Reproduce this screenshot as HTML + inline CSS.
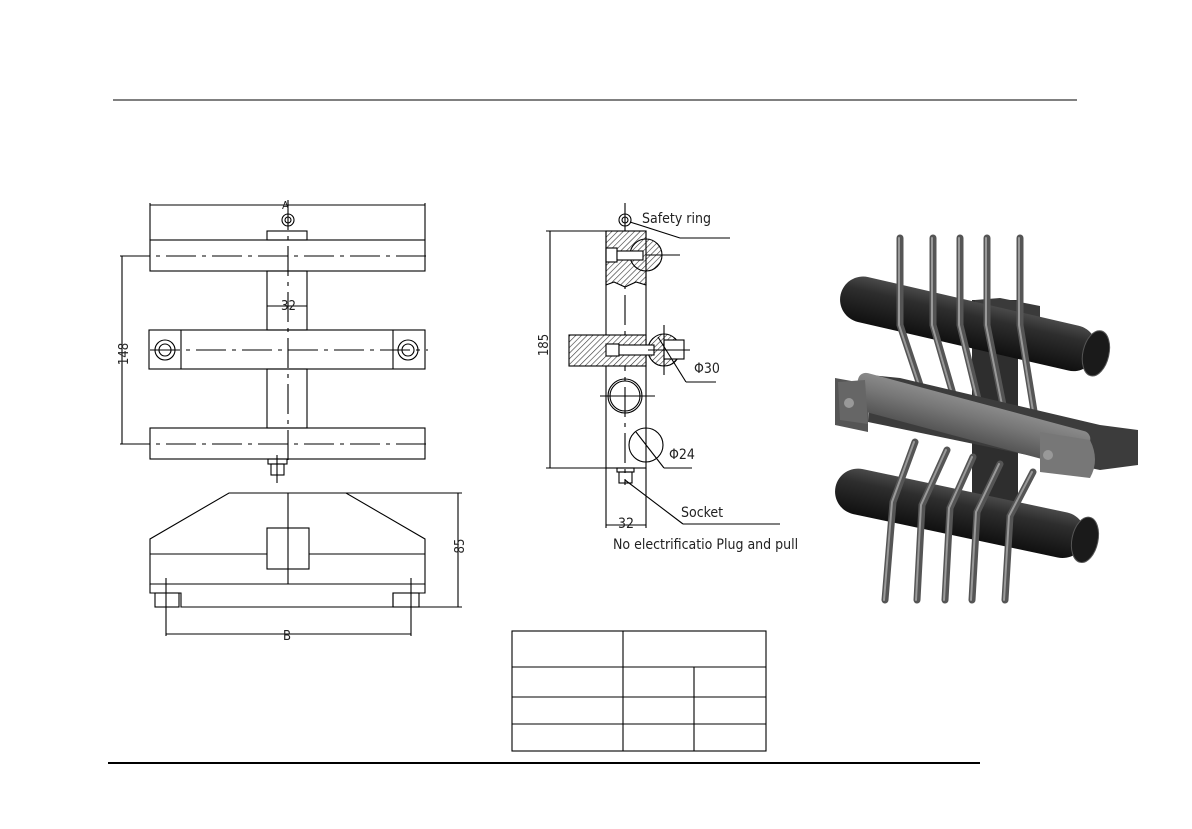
<!DOCTYPE html>
<html><head><style>body{margin:0;background:#fff}svg{display:block}text{font-family:"DejaVu Sans Condensed","Liberation Sans Narrow","Liberation Sans",sans-serif;fill:#222}</style></head>
<body>
<svg width="1192" height="829" viewBox="0 0 1192 829" xmlns="http://www.w3.org/2000/svg">
<defs>
<pattern id="h" width="4" height="4" patternUnits="userSpaceOnUse" patternTransform="rotate(45)"><rect width="4" height="4" fill="#fff"/><line x1="0" y1="0" x2="0" y2="4" stroke="#333" stroke-width="1.2"/></pattern>
<linearGradient id="cyl" x1="0" y1="0" x2="0" y2="1"><stop offset="0" stop-color="#4a4a4a"/><stop offset=".3" stop-color="#2e2e2e"/><stop offset="1" stop-color="#101010"/></linearGradient>
<linearGradient id="gry" x1="0" y1="0" x2="0" y2="1"><stop offset="0" stop-color="#8a8a8a"/><stop offset=".4" stop-color="#777"/><stop offset="1" stop-color="#555"/></linearGradient>
</defs>
<line x1="113" y1="100" x2="1077" y2="100" stroke="#000" stroke-width="1"/>
<line x1="108" y1="763" x2="980" y2="763" stroke="#000" stroke-width="2"/>
<g fill="none" stroke="#000" stroke-width="1.1">
<line x1="150" y1="205" x2="425" y2="205"/><line x1="150" y1="203" x2="150" y2="240"/><line x1="425" y1="203" x2="425" y2="240"/>
<circle cx="288" cy="220" r="6"/><circle cx="288" cy="220" r="3"/>
<rect x="267" y="231" width="40" height="9"/>
<rect x="150" y="240" width="275" height="31"/>
<line x1="120" y1="256" x2="428" y2="256" stroke-dasharray="30 6 4 6"/>
<line x1="122" y1="256" x2="122" y2="444"/>
<rect x="267" y="271" width="40" height="59"/>
<line x1="267" y1="306" x2="307" y2="306"/>
<rect x="149" y="330" width="276" height="39"/><line x1="181" y1="330" x2="181" y2="369"/><line x1="393" y1="330" x2="393" y2="369"/>
<circle cx="165" cy="350" r="10"/><circle cx="165" cy="350" r="6"/><circle cx="408" cy="350" r="10"/><circle cx="408" cy="350" r="6"/>
<line x1="150" y1="350" x2="428" y2="350" stroke-dasharray="30 6 4 6"/>
<rect x="267" y="369" width="40" height="59"/>
<rect x="150" y="428" width="275" height="31"/>
<line x1="120" y1="444" x2="428" y2="444" stroke-dasharray="30 6 4 6"/>
<rect x="268" y="459" width="19" height="5"/><rect x="271" y="464" width="13" height="11"/>
<line x1="288" y1="200" x2="288" y2="462" stroke-dasharray="30 6 4 6"/>
<line x1="277" y1="455" x2="277" y2="483"/>
<path d="M229 493 L346 493 L425 539 L425 584 L150 584 L150 539 Z"/>
<line x1="150" y1="554" x2="425" y2="554"/>
<rect x="267" y="528" width="42" height="41" fill="#fff"/>
<line x1="288" y1="493" x2="288" y2="584"/>
<rect x="155" y="593" width="24" height="14"/><rect x="393" y="593" width="26" height="14"/>
<path d="M150 584 L150 593 L181 593 L181 607 L393 607 L393 593 L425 593 L425 584"/>
<line x1="166" y1="578" x2="166" y2="636"/><line x1="411" y1="578" x2="411" y2="636"/>
<line x1="166" y1="634" x2="411" y2="634"/>
<line x1="346" y1="493" x2="462" y2="493"/><line x1="419" y1="607" x2="462" y2="607"/>
<line x1="458" y1="493" x2="458" y2="607"/>
<line x1="625" y1="203" x2="625" y2="485" stroke-dasharray="30 6 4 6"/>
<circle cx="625" cy="220" r="6"/><circle cx="625" cy="220" r="3"/>
<line x1="630" y1="222" x2="680" y2="238"/><line x1="680" y1="238" x2="730" y2="238"/>
<path d="M606 231 L646 231 L646 285 L636 282 L625 287 L614 282 L606 285 Z" fill="url(#h)"/>
<circle cx="646" cy="255" r="16" fill="url(#h)"/>
<rect x="606" y="248" width="11" height="14" fill="#fff"/><rect x="617" y="251" width="26" height="9" fill="#fff"/>
<line x1="646" y1="255" x2="680" y2="255"/>
<rect x="606" y="231" width="40" height="237"/>
<line x1="546" y1="231" x2="606" y2="231"/><line x1="546" y1="468" x2="606" y2="468"/>
<line x1="550" y1="231" x2="550" y2="468"/>
<rect x="569" y="335" width="77" height="31" fill="url(#h)"/>
<circle cx="664" cy="350" r="16" fill="url(#h)"/>
<rect x="606" y="344" width="13" height="12" fill="#fff"/><rect x="619" y="345" width="35" height="10" fill="#fff"/><rect x="664" y="340" width="20" height="19" fill="#fff"/>
<line x1="664" y1="325" x2="664" y2="375"/><line x1="648" y1="350" x2="690" y2="350"/>
<line x1="658" y1="337" x2="686" y2="382"/><line x1="686" y1="382" x2="716" y2="382"/>
<circle cx="625" cy="396" r="17"/><circle cx="625" cy="396" r="15"/><line x1="600" y1="396" x2="655" y2="396"/>
<circle cx="646" cy="445" r="17"/><line x1="636" y1="432" x2="664" y2="468"/><line x1="664" y1="468" x2="692" y2="468"/>
<rect x="617" y="468" width="17" height="4"/><rect x="619" y="472" width="13" height="11"/>
<line x1="625" y1="480" x2="683" y2="524"/><line x1="683" y1="524" x2="780" y2="524"/>
<line x1="606" y1="468" x2="606" y2="528"/><line x1="646" y1="468" x2="646" y2="528"/>
<line x1="606" y1="525" x2="646" y2="525"/>
<rect x="512" y="631" width="254" height="120"/>
<line x1="623" y1="631" x2="623" y2="751"/>
<line x1="512" y1="667" x2="766" y2="667"/>
<line x1="512" y1="697" x2="766" y2="697"/><line x1="512" y1="724" x2="766" y2="724"/>
<line x1="694" y1="667" x2="694" y2="751"/>
</g>
<g font-size="13">
<text x="282" y="209" font-size="11">A</text>
<text x="281" y="310">32</text>
<text x="118" y="356" transform="rotate(-90 122 350)" text-anchor="middle">148</text>
<text x="466" y="552" transform="rotate(-90 462 550)" text-anchor="middle">85</text>
<text x="283" y="640">B</text>
<text x="642" y="223" font-size="14">Safety ring</text>
<text x="553" y="350" transform="rotate(-90 548 350)" text-anchor="middle">185</text>
<text x="694" y="373" font-size="14">Φ30</text>
<text x="669" y="459" font-size="14">Φ24</text>
<text x="681" y="517" font-size="14">Socket</text>
<text x="618" y="528" font-size="14">32</text>
<text x="613" y="549" font-size="14">No electrificatio Plug and pull</text>
</g>
<g>
<rect x="972" y="300" width="46" height="220" fill="#2e2e2e"/>
<path d="M975 300 L1000 298 L1040 306 L1040 330 L975 322 Z" fill="#3a3a3a"/>
<g transform="translate(865 300) rotate(13)">
<rect x="-25" y="-23" width="262" height="46" rx="23" fill="url(#cyl)"/>
<ellipse cx="237" cy="0" rx="13" ry="23" fill="#1a1a1a" stroke="#555" stroke-width="1"/>
</g>
<g transform="translate(860 492) rotate(12)">
<rect x="-25" y="-23" width="255" height="46" rx="23" fill="url(#cyl)"/>
<ellipse cx="230" cy="0" rx="13" ry="23" fill="#1a1a1a" stroke="#555" stroke-width="1"/>
</g>
<g fill="none" stroke-linecap="round">
<g stroke="#555" stroke-width="7">
<path d="M900 238 L900 325 L930 415"/><path d="M933 238 L933 325 L962 425"/><path d="M960 238 L960 325 L986 432"/><path d="M987 238 L987 325 L1010 440"/><path d="M1020 238 L1020 325 L1040 448"/>
</g>
<g stroke="#999" stroke-width="2">
<path d="M899 238 L899 325 L929 415"/><path d="M932 238 L932 325 L961 425"/><path d="M959 238 L959 325 L985 432"/><path d="M986 238 L986 325 L1009 440"/><path d="M1019 238 L1019 325 L1039 448"/>
</g>
</g>
<path d="M870 375 L900 378 L1100 425 L1138 430 L1138 465 L1100 470 L868 422 Z" fill="#3c3c3c"/>
<path d="M835 378 L868 384 L868 432 L835 425 Z" fill="#555"/>
<g transform="translate(865 392) rotate(15)">
<rect x="-10" y="-19" width="240" height="38" rx="8" fill="url(#gry)"/>
</g>
<path d="M838 382 L865 380 L868 424 L840 420 Z" fill="#666"/>
<path d="M1040 432 L1090 440 Q1100 460 1090 478 L1040 472 Z" fill="#777"/>
<circle cx="849" cy="403" r="5" fill="#999"/><circle cx="1048" cy="455" r="5" fill="#999"/>
<g fill="none" stroke-linecap="round">
<g stroke="#555" stroke-width="7">
<path d="M915 442 L893 502 L885 600"/><path d="M947 450 L922 505 L917 600"/><path d="M973 457 L950 508 L945 600"/><path d="M1000 464 L977 512 L972 600"/><path d="M1033 472 L1010 516 L1005 600"/>
</g>
<g stroke="#999" stroke-width="2">
<path d="M914 442 L892 502 L884 600"/><path d="M946 450 L921 505 L916 600"/><path d="M972 457 L949 508 L944 600"/><path d="M999 464 L976 512 L971 600"/><path d="M1032 472 L1009 516 L1004 600"/>
</g>
</g>
</g>
</svg>
</body></html>
